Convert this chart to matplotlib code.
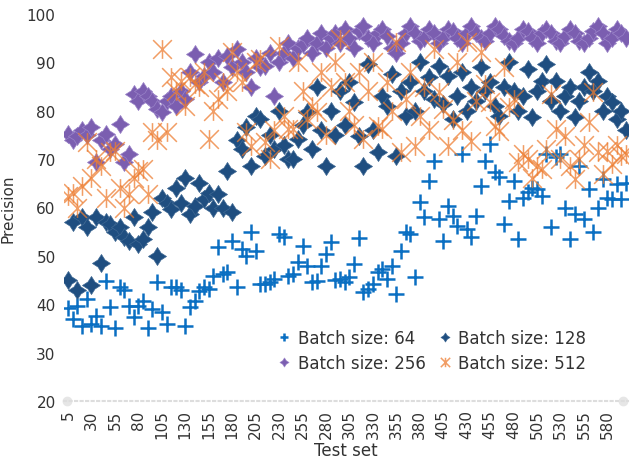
import numpy as np
from matplotlib import pyplot as plt
from matplotlib.path import Path

# test sets 5, 10, ..., 600
test_set = list(range(5, 601, 5))

bs64 = [39.2, 37, 39.6, 35.5, 41, 36, 37.6, 35.5, 44.8, 39.4,
        35, 43.5, 43, 39.6, 37.4, 39.6, 40.7, 35, 39, 44.5,
        38.4, 36, 43.5, 43.5, 43, 35.5, 39.4, 40.7, 42.7, 43.5,
        43.1, 45.8, 51.8, 46.2, 46.6, 53, 43.5, 51.4, 50, 55,
        51, 44.2, 44.2, 44.6, 45.2, 54.5, 54, 45.8, 46.2, 48.7,
        52, 47.9, 44.6, 44.8, 47.9, 50.4, 52.8, 45, 45.2, 44.6,
        45.6, 48.3, 53.7, 42.5, 43.1, 44.2, 46.6, 47.3, 45.2, 47.9,
        42.1, 51, 54.9, 54.5, 45.6, 61.1, 58, 65.5, 69.6, 57.6,
        53, 60.3, 58.2, 56.2, 71, 55.5, 53.9, 58.2, 64.4, 69.6,
        73.1, 67.3, 66.3, 56.6, 61.3, 65.5, 53.5, 62, 63.2, 64,
        63.8, 62.4, 71, 56, 70.4, 71, 60, 53.5, 58.6, 68.6,
        57.6, 63.8, 54.9, 60, 65.9, 62, 61.7, 64.8, 61.7, 65]

bs128 = [45, 57, 43, 58, 56, 44, 58, 48.5, 57, 56.5,
         55, 56, 54, 53, 58, 52.5, 53.5, 56, 59, 50,
         62, 61, 59.7, 64, 61, 66, 58.6, 60.3, 65, 61.7,
         63, 60, 62.8, 60, 67.5, 59, 74, 72, 76.6, 68.6,
         78.9, 78.3, 70.6, 75, 72, 80, 73, 70, 70, 74.1,
         77, 79.7, 72, 85, 76, 68.6, 80, 75, 84, 77,
         86, 81.8, 74.8, 68.6, 89.6, 76, 71.4, 83, 81, 87.6,
         70.6, 84, 78.9, 86, 80, 90, 84, 87, 82.4, 89.2,
         81.4, 87.1, 78.3, 83, 88, 80, 85, 82, 89, 84,
         86, 81, 78.9, 85, 90, 84, 80, 83, 88.6, 78.7,
         84, 86.2, 89.6, 82, 86.2, 80, 83, 85, 78.7, 82,
         85, 88, 84, 86.2, 80, 83, 81.8, 78.3, 80, 76]

bs256 = [75.2, 74, 74.8, 76, 75, 76.6, 69.4, 74, 75.2, 72,
         73.1, 77.3, 69.4, 71, 83.4, 82, 84, 83, 82, 80.3,
         79.7, 82, 83, 81, 84, 82.4, 88, 91.7, 86, 87.1,
         90, 88, 91, 86, 91.3, 89, 92.7, 90, 88, 85,
         91, 89, 89.2, 92, 83, 90, 92, 94, 91, 93,
         93.8, 95, 92, 94, 96, 93, 95, 96, 94, 97,
         95, 93, 96.5, 97.5, 95, 94, 96, 97, 95.5, 93,
         92, 94, 96, 97.5, 96, 94.5, 95, 97, 96, 94,
         95, 97, 96.5, 95, 94, 96, 97.5, 96, 95, 94.5,
         96, 97.5, 97, 95.5, 94.5, 94, 95, 97, 96.5, 95,
         94, 96, 97, 96, 94.5, 94, 95.5, 97, 96, 94.5,
         94, 95, 96.5, 97.5, 96, 94, 95, 97, 96, 95]

bs512 = [62.4, 63, 60, 64.4, 73.5, 66, 70, 68.6, 62, 71.4,
         71.7, 64, 60, 62.8, 66, 67.5, 68, 62.8, 75.6, 74,
         92.7, 75.6, 86.9, 84, 86.2, 81, 87, 85.5, 85, 88,
         74.1, 80, 82.4, 86, 84, 92.1, 88, 85.9, 75.6, 72.7,
         90, 90.7, 73.5, 70, 76, 93.4, 78.9, 76.2, 76.2, 90,
         84, 78.3, 81, 79.7, 88, 75, 85, 90, 94.8, 86,
         80, 77, 88, 74.1, 84, 90, 76.8, 76.2, 86, 80,
         94.2, 71.4, 82.4, 88, 72.7, 79, 85, 76, 92.7, 83.8,
         80.3, 72.7, 78, 90, 76, 94.2, 73.7, 82, 92.1, 85.5,
         81.8, 76.8, 75.8, 89, 80.7, 82.4, 69.4, 71, 70, 66,
         68.6, 67.9, 72, 83.4, 76.2, 70, 74.8, 68.6, 65.9, 70,
         73, 77.6, 83.8, 71.4, 67, 71.7, 69, 73, 70.6, 71]

labels = ['Batch size: 64', 'Batch size: 128', 'Batch size: 256', 'Batch size: 512']
cores = ['#0a6fc2', '#1f4e80', '#7b5eb0', '#ed7d31']

# marcador estrela do excel: X com barra vertical
estrela = Path([(-1, -1), (1, 1), (-1, 1), (1, -1), (0, -1), (0, 1)],
               [Path.MOVETO, Path.LINETO, Path.MOVETO, Path.LINETO, Path.MOVETO, Path.LINETO])
# losango com pontas (tipo cruz gorda)
losango = Path.unit_regular_star(4, 0.55)

fig = plt.figure(figsize=(6.31, 4.64), dpi=100)
ax = fig.add_axes([64/631, 1-402/464, 564/631, 387/464])

h64, = ax.plot(test_set, bs64, ls='none', marker='+', ms=12, mew=1.8, color=cores[0])
h128, = ax.plot(test_set, bs128, ls='none', marker=losango, ms=13, mew=0.5,
                color=cores[1], markeredgecolor='#3d6792')
h256, = ax.plot(test_set, bs256, ls='none', marker=losango, ms=13, mew=0.5,
                color=cores[2], markeredgecolor='#9a83c8')
h512, = ax.plot(test_set, bs512, ls='none', marker=estrela, ms=13.5, mew=1.1,
                color=cores[3], alpha=0.75, markerfacecolor='none')

ax.set_ylim(20, 100)
ax.set_xlim(0.7, 602)
ax.set_yticks(range(20, 101, 10))
ax.set_xticks(test_set[::5])
ax.tick_params(axis='both', length=0, colors='#333333', labelsize=11)
ax.tick_params(axis='x', rotation=90, pad=6)
ax.tick_params(axis='y', pad=6)

for s in ['top', 'right', 'left']:
    ax.spines[s].set_visible(False)
ax.spines['bottom'].set_color('#dddddd')
ax.spines['bottom'].set_linestyle(':')
ax.spines['bottom'].set_linewidth(1.5)
ax.plot([0.006, 0.992], [0, 0], 'o', ms=6, color='#e6e6e6', transform=ax.transAxes, clip_on=False)

ax.set_xlabel('Test set', fontsize=12, color='#333333', labelpad=2)
ax.set_ylabel('Precision', fontsize=11, color='#333333', labelpad=8)

leg = ax.legend([h64, h256, h128, h512], [labels[0], labels[2], labels[1], labels[3]],
                ncol=2, loc='upper left', bbox_to_anchor=(0.349, 0.226), frameon=False,
                fontsize=12, markerscale=0.5, handletextpad=0.3, columnspacing=0.65,
                handlelength=1.0, labelspacing=0.45)
for t in leg.get_texts():
    t.set_color('#333333')

plt.savefig('out.png', dpi=100)
